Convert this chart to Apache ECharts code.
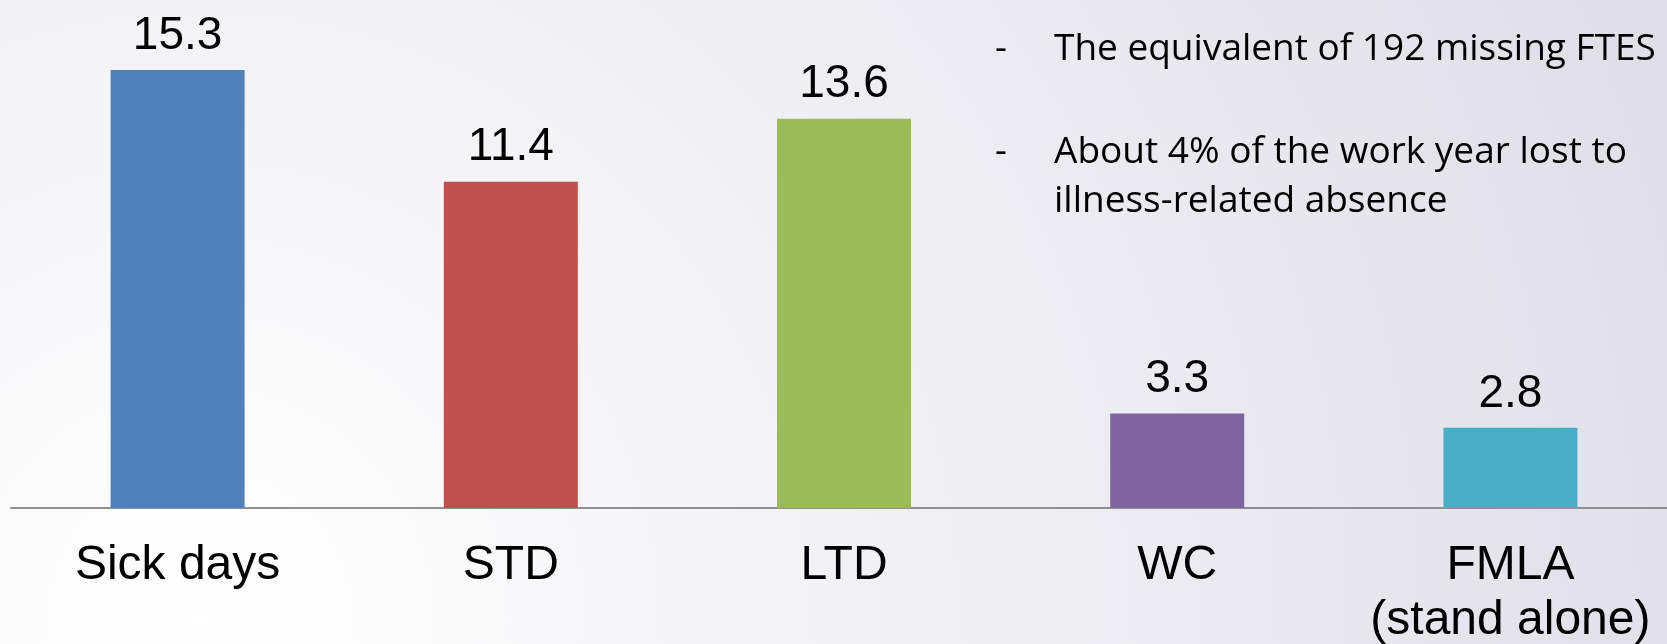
<!DOCTYPE html>
<html>
<head>
<meta charset="utf-8">
<script src="https://cdn.jsdelivr.net/npm/echarts@6/dist/echarts.min.js"></script>
<style>
html,body{margin:0;padding:0;}
#chart{width:1667px;height:644px;}
</style>
</head>
<body>
<div id="chart"></div>
<script>
const categories = ['Sick days', 'STD', 'LTD', 'WC', 'FMLA\n(stand alone)'];
const values = [15.3, 11.4, 13.6, 3.3, 2.8];
const barColors = ['#4F81BD', '#C0504D', '#9BBB59', '#8064A2', '#4BACC6'];
const notes = [
  ['The equivalent of 192 missing FTES'],
  ['About 4% of the work year lost to', 'illness-related absence']
];

const chart = echarts.init(document.getElementById('chart'), null, {renderer: 'canvas'});

const noteFont = '"Open Sans", sans-serif';
const graphics = [];
const noteBaselines = [[62], [165, 214]];
notes.forEach((lines, i) => {
  graphics.push({
    type: 'text', left: 995, top: noteBaselines[i][0] - 31,
    style: {text: '-', font: '37px ' + noteFont, fill: '#000'}
  });
  lines.forEach((ln, j) => {
    graphics.push({
      type: 'text', left: 1054, top: noteBaselines[i][j] - 31,
      style: {text: ln, font: '37px ' + noteFont, fill: '#000'}
    });
  });
});

const option = {
  backgroundColor: {
    type: 'radial', x: 200, y: 620, r: 1550, global: true,
    colorStops: [{offset: 0, color: '#ffffff'}, {offset: 1, color: '#e0dfe8'}]
  },
  animation: false,
  grid: {left: 11, width: 1666, top: 50, bottom: 136, containLabel: false, outerBoundsMode: 'none'},
  xAxis: {
    type: 'category', data: categories,
    axisLine: {show: true, lineStyle: {color: '#8f8f8f', width: 2}},
    axisTick: {show: false},
    axisLabel: {
      interval: 0, color: '#000', fontSize: 48, lineHeight: 55, margin: 30,
      fontFamily: 'Arial, "Liberation Sans", sans-serif'
    }
  },
  yAxis: {type: 'value', min: 0, max: 16, show: false, splitLine: {show: false}},
  series: [{
    type: 'bar', barWidth: 134,
    data: values.map((v, i) => ({value: v, itemStyle: {color: barColors[i]}})),
    label: {
      show: true, position: 'top', distance: 11, color: '#000', fontSize: 46,
      fontFamily: 'Arial, "Liberation Sans", sans-serif',
      formatter: p => p.value.toFixed(1)
    }
  }],
  graphic: graphics
};
chart.setOption(option);
</script>
</body>
</html>
